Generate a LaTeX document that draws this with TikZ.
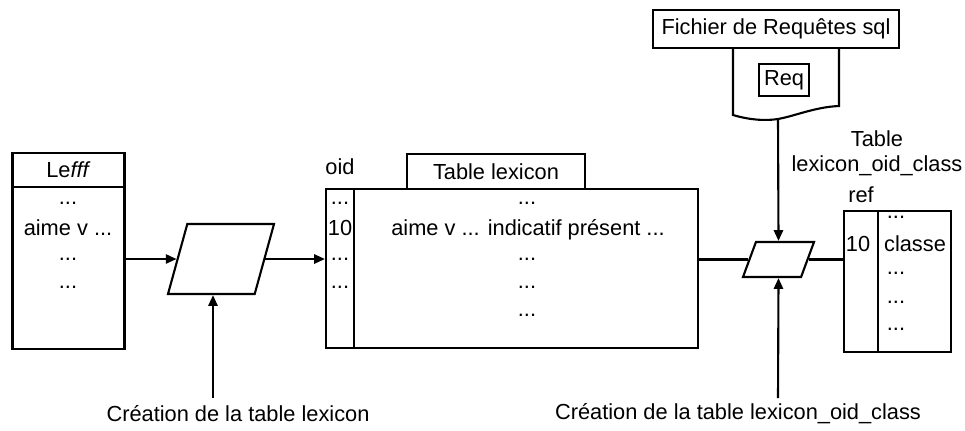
\documentclass[tikz,border=0pt]{standalone}
\usepackage{fontspec}
\setmainfont{Liberation Sans}
\usetikzlibrary{positioning}
\usetikzlibrary{shapes.geometric}
\usetikzlibrary{arrows.meta}

\begin{document}
\begin{tikzpicture}
[
x=0.025cm, y=-0.025cm,
font=\fontsize{15.5}{18}\selectfont,
line width=1.5pt,
>={Triangle[length=2.7mm, width=2.3mm]},
table/.style={rectangle, draw, inner sep=0pt},
proc/.style={trapezium, draw, inner sep=1pt, trapezium stretches=true,
             trapezium left angle=74, trapezium right angle=106},
text-a/.style={black, inner sep=0pt, anchor=base},
]
\useasboundingbox (0,0) rectangle (965,430);

% Lefff
\node (lefffh) [table, minimum width=2.8cm, minimum height=0.85cm]  at (68.5,170)   {Le\textit{fff}};
\node (lefffb) [table, minimum width=2.8cm, minimum height=4.05cm]  at (68.5,268)   {};
\node (lefffr1) [text-a] at (68,204) {...};
\node (lefffr2) [text-a] at (68,235) {aime v ...};
\node (lefffr3) [text-a] at (68,260) {...};
\node (lefffr4) [text-a] at (68,288) {...};

% table lexicon
\node (oidcol)  [table, minimum width=0.7cm, minimum height=3.975cm] at (340,268.5)  {};
\node (lexbody) [table, minimum width=8.6cm, minimum height=3.975cm] at (526,268.5)  {};
\node (lexhead) [table, minimum width=4.45cm, minimum height=0.875cm] at (496,171.5) {Table lexicon};
\node (oidl)    [text-a, anchor=south, above = 3mm of oidcol.north] {oid};
\node (oidr1) [text-a] at (340,204) {...};
\node (oidr2) [text-a] at (340,235) {10};
\node (oidr3) [text-a] at (340,260) {...};
\node (oidr4) [text-a] at (340,288) {...};
\node (lexr1) [text-a] at (527,204) {...};
\node (lexr2) [text-a] at (528,235) {aime v ... indicatif présent ...};
\node (lexr3) [text-a] at (527,260) {...};
\node (lexr4) [text-a] at (527,288) {...};
\node (lexr5) [text-a] at (527,316) {...};

% table lexicon_oid_class
\node (refid)  [table, minimum width=0.85cm, minimum height=3.525cm]  at (861,281.5)   {};
\node (refcls) [table, minimum width=1.825cm, minimum height=3.525cm] at (914.5,281.5) {};
\node (refl)   [text-a, anchor=south, above = 1.5mm of refid.north] {ref};
\node (reft)   [text-a, anchor=center, align=center] at (877,153) {Table\\lexicon\_oid\_class};
\node (refr2)  [text-a] at (858,251) {10};
\node (clsr1)  [text-a] at (896,218) {...};
\node (clsr2)  [text-a] at (915,251) {classe};
\node (clsr3)  [text-a] at (896,274) {...};
\node (clsr4)  [text-a] at (896,303) {...};
\node (clsr5)  [text-a] at (896,330) {...};

% fichier sql
\draw (733,48) -- (733,115) .. controls (750,120) and (765,121) .. (778,119)
      .. controls (795,116) and (815,107) .. (839,106) -- (839,48);
\coordinate (docb) at (778,119);
\node (sqlf) [table, minimum width=6.15cm, minimum height=0.95cm, fill=white] at (776,29) {Fichier de Requêtes sql};
\node (req)  [table, minimum width=1.25cm, minimum height=0.8cm] at (784,80) {Req};

% traitements
\node (proc1) [proc, minimum width=2.65cm, minimum height=1.75cm]  at (221,259)   {};
\node (proc2) [proc, minimum width=1.775cm, minimum height=0.875cm] at (778.5,259.5) {};
\node (crea1) [text-a, anchor=center] at (238,414) {Création de la table lexicon};
\node (crea2) [text-a, anchor=center] at (738,414) {Création de la table lexicon\_oid\_class};
\coordinate (in1) at (213,398);
\coordinate (in2) at (778,398);

\draw [->] (lefffb.east |- proc1) -- (proc1.west);
\draw [->] (proc1.east) -- (proc1.east -| oidcol.west);
\draw [->] (in1) -- (in1 |- proc1.south);
\draw      (lexbody.east |- proc2) -- (proc2.west);
\draw      (proc2.east) -- (proc2.east -| refid.west);
\draw [->] (docb) -- (proc2.north);
\draw [->] (in2) -- (proc2.south);
\end{tikzpicture}
\end{document}
